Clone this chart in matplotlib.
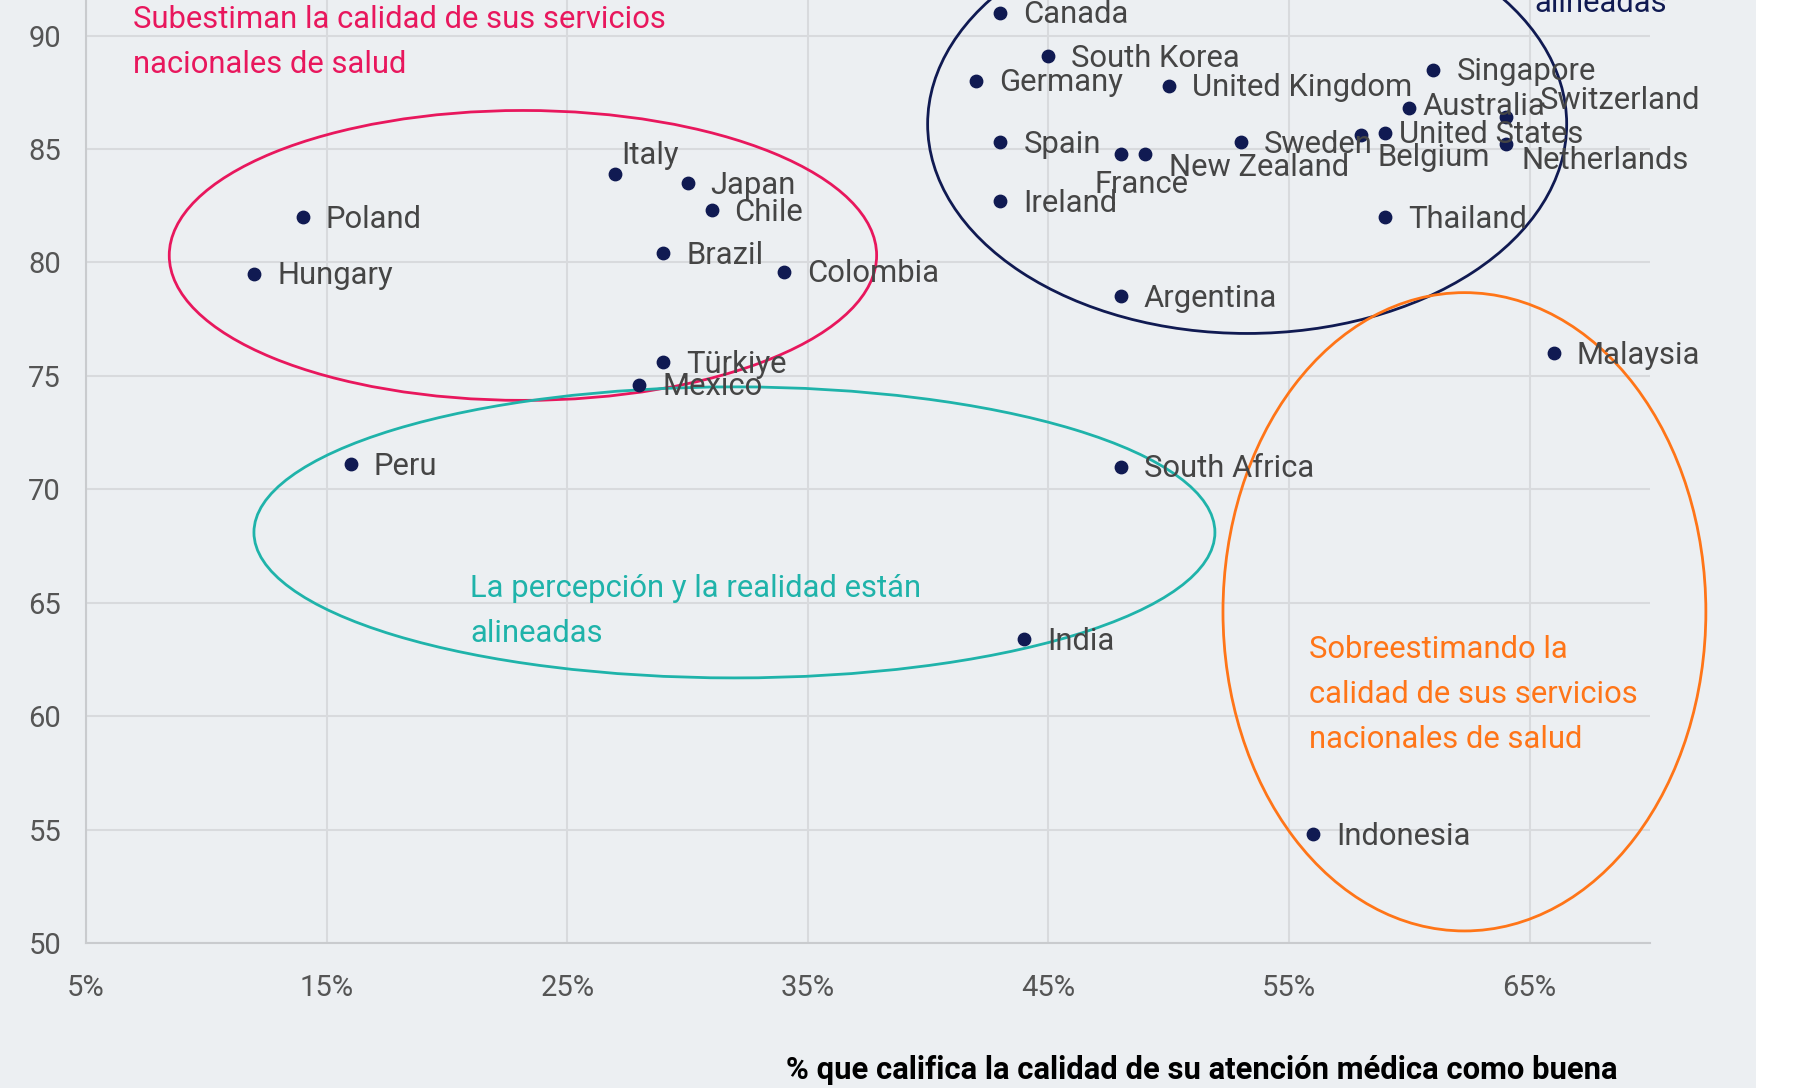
import matplotlib.pyplot as plt
from matplotlib.patches import Ellipse, Rectangle
from matplotlib.ticker import FuncFormatter

plt.rcParams['font.family'] = ['Roboto', 'DejaVu Sans']

# datos: % que califica su atencion como buena (x) vs indice de calidad (y)
paises = ["Canada", "South Korea", "Germany", "United Kingdom", "Singapore",
          "Australia", "Switzerland", "United States", "Belgium", "Netherlands",
          "Sweden", "Spain", "France", "New Zealand", "Ireland", "Thailand",
          "Argentina", "Malaysia", "Italy", "Japan", "Chile", "Poland", "Brazil",
          "Colombia", "Hungary", "Türkiye", "Mexico", "Peru", "South Africa",
          "India", "Indonesia"]
pct_buena = [43, 45, 42, 50, 61, 60, 64, 59, 58, 64, 53, 43, 48, 49, 43, 59,
             48, 66, 27, 30, 31, 14, 29, 34, 12, 29, 28, 16, 48, 44, 56]
indice = [91.0, 89.1, 88.0, 87.8, 88.5, 86.8, 86.4, 85.7, 85.6, 85.2, 85.3,
          85.3, 84.8, 84.8, 82.7, 82.0, 78.5, 76.0, 83.9, 83.5, 82.3, 82.0,
          80.4, 79.6, 79.5, 75.6, 74.6, 71.1, 71.0, 63.4, 54.8]

x_ticks = [5, 15, 25, 35, 45, 55, 65]
y_ticks = [50, 55, 60, 65, 70, 75, 80, 85, 90]

# desplazamiento de etiquetas (pixeles) distinto del normal
offsets = {
    "Italy": (6, 18),
    "Switzerland": (34, 17),
    "Belgium": (16, -22),
    "Netherlands": (16, -16),
    "France": (-26, -31),
    "New Zealand": (24, -14),
    "Australia": (13, 2),
    "United States": (14, -1),
}

fondo = "#eceff2"
azul = "#101a52"
rojo = "#e8175d"
verde = "#1fb3aa"
naranja = "#ff7518"
gris = "#454545"
fs = 22.3

fig = plt.figure(figsize=(18.03, 10.88), dpi=100, facecolor=fondo)
fig.patches.append(Rectangle((0.974, 0), 0.026, 1, transform=fig.transFigure,
                             facecolor="white", edgecolor="none", zorder=0))
ax = fig.add_axes([0.0477, 0.1333, 0.9151 - 0.0477, 1 - 0.1333])
ax.set_facecolor(fondo)

ax.set_xlim(5, 70)
ax.set_ylim(50, 91.57)
ax.set_xticks(x_ticks)
ax.set_yticks(y_ticks)
ax.xaxis.set_major_formatter(FuncFormatter(lambda v, p: f"{v:.0f}%"))
ax.grid(True, color="#d8dadd", linewidth=1.5, zorder=0)
ax.set_axisbelow(True)
for s in ["top", "right"]:
    ax.spines[s].set_visible(False)
for s in ["left", "bottom"]:
    ax.spines[s].set_color("#c9cbce")
    ax.spines[s].set_linewidth(1.5)
ax.tick_params(length=0, labelsize=21, labelcolor="#555555")
ax.tick_params(axis="x", pad=22)
ax.tick_params(axis="y", pad=18)

ax.scatter(pct_buena, indice, s=80, color=azul, zorder=3)
for nombre, x, y in zip(paises, pct_buena, indice):
    dx, dy = offsets.get(nombre, (23, -2))
    ax.annotate(nombre, (x, y), xytext=(dx, dy), textcoords="offset pixels",
                fontsize=fs, color=gris, va="center", ha="left", zorder=4)

# grupos
ax.add_patch(Ellipse((23.16, 80.31), 29.4, 12.78, fill=False, edgecolor=rojo,
                     linewidth=2, zorder=2))
ax.add_patch(Ellipse((53.26, 86.1), 26.56, 18.46, fill=False, edgecolor=azul,
                     linewidth=2, zorder=2))
ax.add_patch(Ellipse((31.95, 68.1), 39.94, 12.83, fill=False, edgecolor=verde,
                     linewidth=2, zorder=2))
ax.add_patch(Ellipse((62.29, 64.6), 20.07, 28.14, fill=False, edgecolor=naranja,
                     linewidth=2, zorder=2, clip_on=False))

ax.text(6.96, 89.7, "Subestiman la calidad de sus servicios\nnacionales de salud",
        color=rojo, fontsize=fs, va="center", ha="left", linespacing=1.7)
ax.text(20.96, 64.64, "La percepción y la realidad están\nalineadas",
        color=verde, fontsize=fs, va="center", ha="left", linespacing=1.7)
ax.text(55.84, 60.94, "Sobreestimando la\ncalidad de sus servicios\nnacionales de salud",
        color=naranja, fontsize=fs, va="center", ha="left", linespacing=1.7)
ax.text(65.19, 92.43, "La percepción y la realidad están\nalineadas",
        color=azul, fontsize=fs, va="center", ha="left", linespacing=1.7)

fig.text(1618 / 1803, 1 - 1070 / 1088,
         "% que califica la calidad de su atención médica como buena",
         fontsize=fs, fontweight="bold", color="black", ha="right", va="center")

fig.savefig("out.png", dpi=100, facecolor=fondo)
